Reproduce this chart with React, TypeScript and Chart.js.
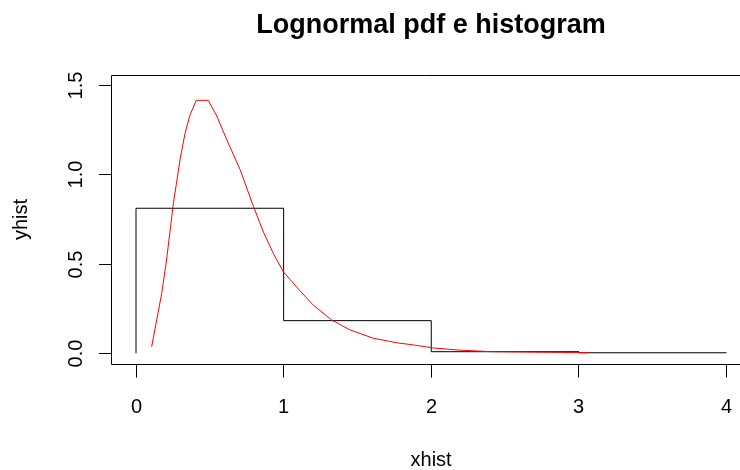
import React, { useEffect, useRef } from "react";
import { Chart, registerables } from "chart.js";

Chart.register(...registerables);

// ---- Data ----
const titleText = "Lognormal pdf e histogram";
const xLabel = "xhist";
const yLabel = "yhist";

// histogram drawn as a step line (R type = "s")
const xhist = [0, 0, 1, 2, 3, 4];
const yhist = [0, 0.813, 0.183, 0.009, 0.003, 0.003];

// lognormal pdf curve (red)
const curveX = [0.106, 0.174, 0.207, 0.253, 0.298, 0.332, 0.366, 0.408, 0.49, 0.547, 0.615, 0.705, 0.79, 0.863, 0.93, 0.998, 1.111, 1.2, 1.325, 1.45, 1.608, 1.766, 1.878, 2.014, 2.184, 2.41, 2.873, 3.065];
const curveY = [0.037, 0.336, 0.523, 0.84, 1.083, 1.233, 1.336, 1.418, 1.418, 1.33, 1.197, 1.03, 0.835, 0.68, 0.56, 0.457, 0.35, 0.271, 0.187, 0.131, 0.084, 0.059, 0.047, 0.03, 0.018, 0.009, 0.005, 0.003];

const xTicks = [0, 1, 2, 3, 4];
const xTickLabels = ["0", "1", "2", "3", "4"];
const yTicks = [0, 0.5, 1, 1.5];
const yTickLabels = ["0.0", "0.5", "1.0", "1.5"];

// axis ranges (R's 4% extension)
const xMin = -0.1626;
const xMaxVisible = 4.0914;
const xMaxR = 4.16;
const yMin = -0.06;
const yMax = 1.56;

const FONT = "'Liberation Sans', Arial, sans-serif";

const rAxesPlugin = {
  id: "rAxes",
  afterDraw(chart: any) {
    const ctx = chart.ctx as CanvasRenderingContext2D;
    const { left, top, bottom } = chart.chartArea;
    const xs = chart.scales.x;
    const ys = chart.scales.y;
    ctx.save();
    ctx.strokeStyle = "#000";
    ctx.lineWidth = 1;
    // box
    const right = xs.getPixelForValue(xMaxR);
    ctx.beginPath();
    ctx.moveTo(right, Math.round(top) + 0.5);
    ctx.lineTo(Math.round(left) - 0.5, Math.round(top) + 0.5);
    ctx.lineTo(Math.round(left) - 0.5, Math.round(bottom) + 0.5);
    ctx.lineTo(right, Math.round(bottom) + 0.5);
    ctx.stroke();

    // x ticks
    ctx.fillStyle = "#000";
    ctx.font = `20px ${FONT}`;
    ctx.textAlign = "center";
    ctx.textBaseline = "alphabetic";
    xTicks.forEach((v, i) => {
      const px = Math.floor(xs.getPixelForValue(v)) + 0.5;
      ctx.beginPath();
      ctx.moveTo(px, Math.round(bottom) + 0.5);
      ctx.lineTo(px, Math.round(bottom) + 13.5);
      ctx.stroke();
      ctx.fillText(xTickLabels[i], px, 413);
    });

    // y ticks
    yTicks.forEach((v, i) => {
      const py = Math.floor(ys.getPixelForValue(v)) + 0.5;
      ctx.beginPath();
      ctx.moveTo(Math.round(left) - 13, py);
      ctx.lineTo(Math.round(left) - 0.5, py);
      ctx.stroke();
      ctx.save();
      ctx.translate(82, py);
      ctx.rotate(-Math.PI / 2);
      ctx.fillText(yTickLabels[i], 0, 0);
      ctx.restore();
    });

    // axis titles
    const cx = (left + right) / 2;
    ctx.fillText(xLabel, cx, 466);
    ctx.save();
    ctx.translate(27, (top + bottom) / 2);
    ctx.rotate(-Math.PI / 2);
    ctx.fillText(yLabel, 0, 0);
    ctx.restore();

    // main title
    ctx.font = `bold 27px ${FONT}`;
    ctx.fillText(titleText, cx, 33);
    ctx.restore();
  },
};

export default function App() {
  const ref = useRef<HTMLCanvasElement | null>(null);
  useEffect(() => {
    if (!ref.current) return;
    const chart = new Chart(ref.current, {
      type: "line",
      data: {
        datasets: [
          {
            label: "pdf",
            data: curveX.map((x, i) => ({ x, y: curveY[i] })),
            borderColor: "#ff0000",
            borderWidth: 1,
            pointRadius: 0,
            tension: 0,
            fill: false,
          },
          {
            label: "hist",
            data: xhist.map((x, i) => ({ x, y: yhist[i] })),
            borderColor: "#000000",
            borderWidth: 1,
            pointRadius: 0,
            stepped: "before",
            fill: false,
          },
        ],
      },
      options: {
        responsive: false,
        animation: false,
        devicePixelRatio: 1,
        layout: { padding: { left: 112, top: 75, right: 0, bottom: 106 } },
        plugins: {
          legend: { display: false },
          tooltip: { enabled: false },
          title: { display: false },
        },
        scales: {
          x: { type: "linear", min: xMin, max: xMaxVisible, display: false },
          y: { type: "linear", min: yMin, max: yMax, display: false },
        },
      },
      plugins: [rAxesPlugin],
    });
    return () => chart.destroy();
  }, []);
  return (
    <div style={{ position: "fixed", left: 0, top: 0, width: 740, height: 470, background: "#fff" }}>
      <canvas ref={ref} width={740} height={470} style={{ display: "block" }} />
    </div>
  );
}
